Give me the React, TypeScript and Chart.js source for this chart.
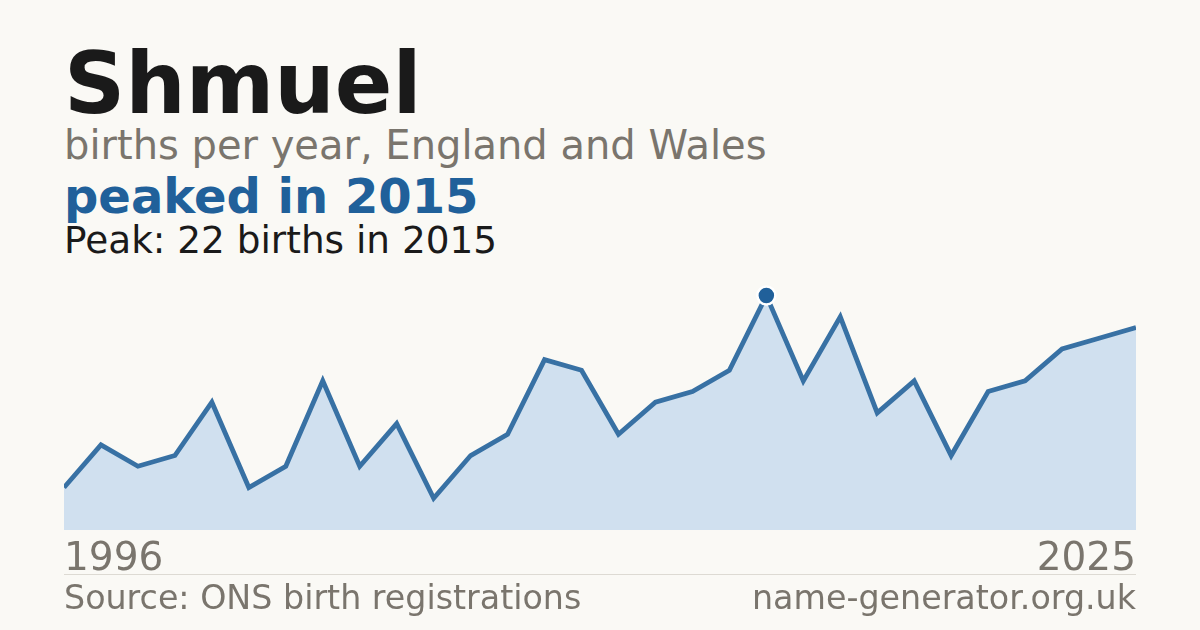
import { useEffect, useRef } from 'react';
import { Chart, registerables } from 'chart.js';

Chart.register(...registerables);

const years = [
  1996, 1997, 1998, 1999, 2000, 2001, 2002, 2003, 2004, 2005,
  2006, 2007, 2008, 2009, 2010, 2011, 2012, 2013, 2014, 2015,
  2016, 2017, 2018, 2019, 2020, 2021, 2022, 2023, 2024, 2025,
];
const births = [
  4, 8, 6, 7, 12, 4, 6, 14, 6, 10,
  3, 7, 9, 16, 15, 9, 12, 13, 15, 22,
  14, 20, 11, 14, 7, 13, 14, 17, 18, 19,
];
const peakYear = 2015;

const FONT = '"DejaVu Sans", Verdana, sans-serif';
const GREY = '#7a756d';
const BLUE = '#20609a';

function BirthsChart() {
  const canvasRef = useRef<HTMLCanvasElement>(null);
  const chartRef = useRef<Chart | null>(null);

  useEffect(() => {
    if (!canvasRef.current) return;
    if (chartRef.current) chartRef.current.destroy();

    const peakIdx = years.indexOf(peakYear);
    const lastIdx = years.length - 1;

    chartRef.current = new Chart(canvasRef.current, {
      type: 'line',
      data: {
        labels: years.map(String),
        datasets: [
          {
            data: births,
            borderColor: '#3871a4',
            borderWidth: 4.8,
            backgroundColor: '#d0e0ef',
            fill: 'origin',
            tension: 0,
            pointRadius: (c: any) => (c.dataIndex === peakIdx ? 9 : 0),
            pointHoverRadius: 0,
            pointBackgroundColor: BLUE,
            pointBorderColor: '#ffffff',
            pointBorderWidth: 2.5,
          },
        ],
      },
      options: {
        animation: false,
        responsive: true,
        maintainAspectRatio: false,
        layout: { autoPadding: false, padding: 0 },
        plugins: {
          legend: { display: false },
          tooltip: { enabled: false },
        },
        scales: {
          x: {
            offset: false,
            // ticks hidden, but their length spaces the year labels below the area
            grid: { display: false, drawTicks: true, tickLength: 6 },
            border: { display: false },
            ticks: {
              autoSkip: false,
              maxRotation: 0,
              align: 'inner',
              padding: 0,
              color: GREY,
              font: { family: FONT, size: 39 },
              callback: (_v: any, i: number) =>
                i === 0 || i === lastIdx ? String(years[i]) : '',
            },
          },
          y: {
            display: false,
            min: 0,
            max: 24.4,
          },
        },
      },
    });

    return () => chartRef.current?.destroy();
  }, []);

  return (
    <div style={{ position: 'absolute', left: 64, top: 270, width: 1072, height: 313 }}>
      <canvas ref={canvasRef} />
    </div>
  );
}

const line = (top: number, size: number, color: string, weight = 400): React.CSSProperties => ({
  position: 'absolute',
  left: 64,
  top,
  fontSize: size,
  lineHeight: `${size}px`,
  color,
  fontWeight: weight,
  whiteSpace: 'nowrap',
});

export default function App() {
  return (
    <div
      style={{
        position: 'fixed',
        left: 0,
        top: 0,
        width: 1200,
        height: 630,
        background: '#faf9f5',
        fontFamily: FONT,
        overflow: 'hidden',
      }}
    >
      <div style={line(41, 85, '#1a1a1a', 700)}>Shmuel</div>
      <div style={line(125, 40, GREY)}>births per year, England and Wales</div>
      <div style={line(172, 48, BLUE, 700)}>peaked in 2015</div>
      <div style={line(222, 37.4, '#1a1a1a')}>Peak: 22 births in 2015</div>
      <BirthsChart />
      <div
        style={{ position: 'absolute', left: 64, top: 574, width: 1072, height: 1, background: '#dddad3' }}
      />
      <div style={line(581, 33.3, GREY)}>Source: ONS birth registrations</div>
      <div style={{ ...line(581, 33.3, GREY), left: 'auto', right: 64 }}>name-generator.org.uk</div>
    </div>
  );
}
